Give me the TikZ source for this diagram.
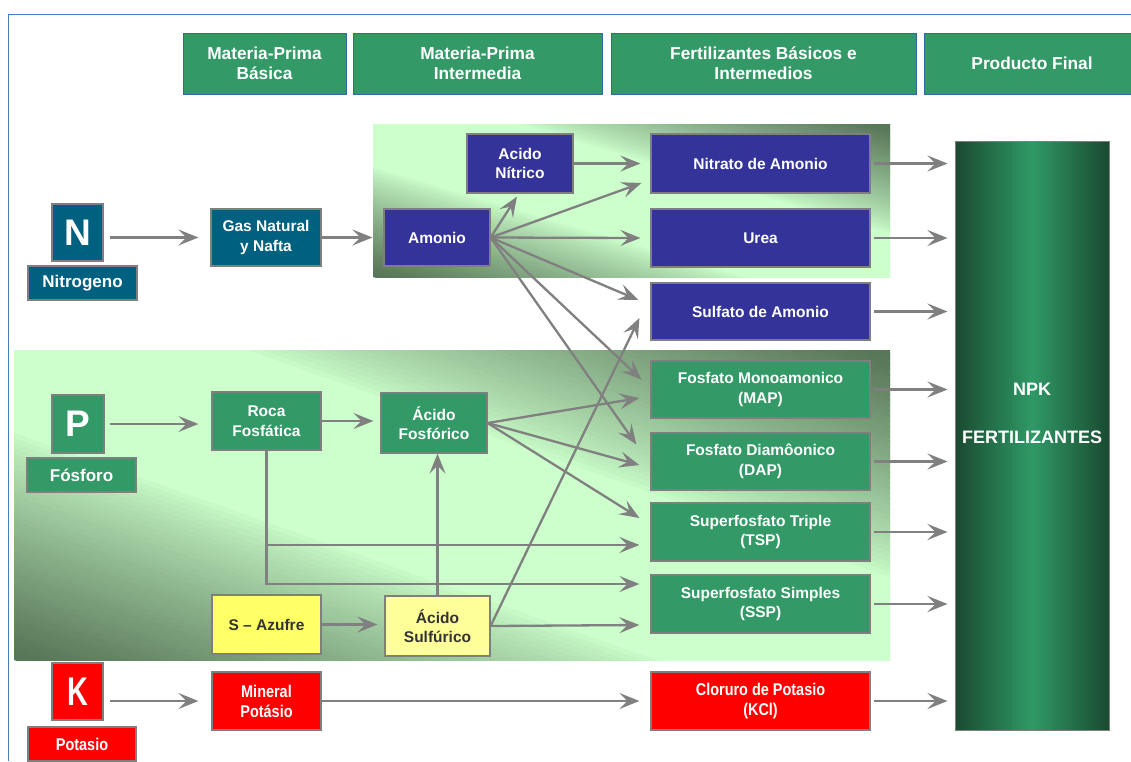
\documentclass[tikz,border=0pt]{standalone}
\usepackage{fontspec}
\setmainfont{Liberation Sans}
\newfontfamily\condfont{Liberation Sans}[FakeStretch=0.85]
\newfontfamily\narrowfont{Liberation Sans}[FakeStretch=0.72]
\usetikzlibrary{arrows.meta,calc}
\definecolor{frameblue}{HTML}{4A7EBB}
\definecolor{hdrgreen}{HTML}{339966}
\definecolor{hdrborder}{HTML}{2B6CA3}
\definecolor{nteal}{HTML}{006080}
\definecolor{nblue}{HTML}{333399}
\definecolor{pgreen}{HTML}{339966}
\definecolor{syellow}{HTML}{FFFF66}
\definecolor{lyellow}{HTML}{FFFF99}
\definecolor{kred}{HTML}{FF0000}
\definecolor{arrgray}{HTML}{808080}
\definecolor{boxborder}{HTML}{7F7F7F}
\definecolor{plight}{HTML}{CCFFCC}
\definecolor{pdark}{HTML}{587658}
\definecolor{npkdark}{HTML}{1A4A30}
\definecolor{npklight}{HTML}{2F9966}
% panel with dark bottom-left and top-right corners, light along the other diagonal
\newcommand{\diagpanel}[5]{% x0, y0 (top-left), width, height, light half-band
  \begin{scope}
  \clip (#1,#2) rectangle ++(#3,#4);
  \foreach \i in {0,...,119}{
    \pgfmathsetmacro{\ta}{-1+\i/60}
    \pgfmathsetmacro{\tb}{\ta+0.026}
    \pgfmathsetmacro{\tm}{abs(\ta+1/120)}
    \pgfmathsetmacro{\mx}{(max(0,min(1,(\tm-#5)/(0.97-#5))))^0.8*100}
    \fill[pdark!\mx!plight] ({#1+(\ta-1)*#3},{#2-#4}) -- ({#1+(\ta+2)*#3},{#2+2*#4})
      -- ({#1+(\tb+2)*#3},{#2+2*#4}) -- ({#1+(\tb-1)*#3},{#2-#4}) -- cycle;
  }
  \end{scope}}
\tikzset{
  bx/.style={draw=boxborder, line width=1.2pt, text=white, align=center, inner sep=0pt,
    font=\bfseries\fontsize{15.5}{19.5}\selectfont},
  sz/.style 2 args={minimum width=#1pt, minimum height=#2pt},
  hdr/.style={draw=hdrborder, line width=1pt, fill=hdrgreen, text=white, align=center, inner sep=0pt,
    minimum height=61pt, font=\bfseries\fontsize{17.3}{20}\selectfont},
  nbox/.style={bx, fill=nteal},
  bbox/.style={bx, fill=nblue},
  gbox/.style={bx, fill=pgreen},
  ybox/.style={bx, fill=syellow, text=black!80},
  lybox/.style={bx, fill=lyellow, text=black!80},
  rbox/.style={bx, fill=kred, font=\condfont\bfseries\fontsize{17}{20}\selectfont},
  letter/.style={font=\bfseries\fontsize{37}{37}\selectfont},
  tag/.style={font=\bfseries\fontsize{17}{20}\selectfont},
  arr/.style={draw=arrgray, line width=2.3pt, -{Stealth[length=20pt,width=16pt,inset=8pt]}}
}
\begin{document}
\begin{tikzpicture}[x=1pt,y=-1pt]
\useasboundingbox (0,0) rectangle (1131,761);
\fill[white] (0,0) rectangle (1131,761);
% frame
\draw[frameblue, line width=1.5pt] (8.5,761) -- (8.5,14.5) -- (1131,14.5);
% panels
\diagpanel{373}{124}{517}{153}{0.28}
\diagpanel{14}{350}{876}{310}{0.26}
% headers
\node[hdr, minimum width=163pt] (h1) at (264.5,63.5) {Materia-Prima\\Básica};
\node[hdr, minimum width=249pt] (h2) at (477.5,63.5) {Materia-Prima\\Intermedia};
\node[hdr, minimum width=305pt] (h3) at (763.5,63.5) {Fertilizantes Básicos e\\Intermedios};
\node[hdr, minimum width=216pt] (h4) at (1032,63.5) {Producto Final};
% nitrogen row
\node[nbox, sz={51}{57}, letter] (N) at (77.5,232.5) {N};
\node[nbox, sz={109}{34}, tag] (Nlab) at (82.5,283) {Nitrogeno};
\node[nbox, sz={110}{57}] (Gas) at (266,237.5) {Gas Natural\\y Nafta};
\node[bbox, sz={106}{57}] (Amonio) at (437,237.5) {Amonio};
\node[bbox, sz={106}{59}] (AcNit) at (520,163.5) {Acido\\Nítrico};
\node[bbox, sz={219}{59}] (Nitrato) at (760.5,163.5) {Nitrato de Amonio};
\node[bbox, sz={219}{58}] (Urea) at (760.5,238) {Urea};
\node[bbox, sz={219}{57}] (Sulfato) at (760.5,311.5) {Sulfato de Amonio};
% phosphorus
\node[gbox, sz={52}{58}, letter] (P) at (78,424) {P};
\node[gbox, sz={109}{34}, tag] (Plab) at (81.5,475) {Fósforo};
\node[gbox, sz={109}{58}] (Roca) at (266.5,421) {Roca\\Fosfática};
\node[gbox, sz={106}{60}] (AcFos) at (434,423) {Ácido\\Fosfórico};
\node[gbox, sz={219}{57}] (MAP) at (760.5,389.5) {Fosfato Monoamonico\\(MAP)};
\node[gbox, sz={219}{57}] (DAP) at (760.5,461.5) {Fosfato Diamôonico\\(DAP)};
\node[gbox, sz={219}{58}] (TSP) at (760.5,532) {Superfosfato Triple\\(TSP)};
\node[gbox, sz={219}{58}] (SSP) at (760.5,604) {Superfosfato Simples\\(SSP)};
\node[ybox, sz={109}{59}] (Azufre) at (266.5,624.5) {S -- Azufre};
\node[lybox, sz={105}{60}] (AcSulf) at (437.5,626) {Ácido\\Sulfúrico};
% potassium
\node[rbox, sz={51}{57}, font=\narrowfont\bfseries\fontsize{40}{40}\selectfont] (K) at (77.5,691.5) {K};
\node[rbox, sz={108}{34}] (Klab) at (82,744) {Potasio};
\node[rbox, sz={109}{58}] (Mineral) at (266.5,701) {Mineral\\Potásio};
\node[rbox, sz={219}{58}] (KCl) at (760.5,701) {Cloruro de Potasio\\(KCl)};
% NPK
\node[draw=boxborder, line width=1pt, left color=npkdark, right color=npkdark, middle color=npklight,
  minimum width=154pt, minimum height=589pt, inner sep=0pt] (NPK) at (1032,435.5) {};
\node[text=white, align=center, font=\bfseries\fontsize{18}{22}\selectfont] (npklab) at (NPK.center |- 0,413) {NPK\\[26pt]FERTILIZANTES};
% arrows: nitrogen
\draw[arr, shorten <=6pt, shorten >=12pt] (N.east |- Gas.west) -- (Gas.west);
\draw[arr, shorten >=11pt] (Gas) -- (Amonio);
\draw[arr] (Amonio.east) -- ($(AcNit.south)+(-3,3)$);
\draw[arr] (Amonio.east) -- ($(Nitrato.west)+(-9,19.5)$);
\draw[arr] (Amonio.east) -- ($(Urea.west)+(-10,0)$);
\draw[arr] (Amonio.east) -- ($(Sulfato.west)+(-12,-11.5)$);
\draw[arr] (Amonio.east) -- ($(MAP.west)+(-9,-10)$);
\draw[arr] (Amonio.east) -- ($(DAP.west)+(-14,-17)$);
\draw[arr, shorten >=10pt] (AcNit) -- (AcNit -| Nitrato.west);
% arrows: phosphorus
\draw[arr, shorten <=5pt, shorten >=13pt] (P.east) -- (P.east -| Roca.west);
\draw[arr, shorten >=7pt] (Roca.east) -- (Roca.east -| AcFos.west);
\draw[arr] (AcFos.east) -- ($(MAP.west)+(-11,8.5)$);
\draw[arr] (AcFos.east) -- ($(DAP.west)+(-11,3.5)$);
\draw[arr] (AcFos.east) -- ($(TSP.west)+(-11,-14)$);
\draw[arr] (Roca.south) |- ($(TSP.west)+(-11,13)$);
\draw[arr] (Roca.south) |- ($(SSP.west)+(-11,-20)$);
\draw[arr, shorten >=7pt] (Azufre.east) -- (Azufre.east -| AcSulf.west);
\draw[arr] (AcSulf.north) -- (AcSulf.north |- AcFos.south);
\draw[arr] (AcSulf.east) -- ($(SSP.west)+(-11,21)$);
\draw[arr] (AcSulf.east) -- ($(Sulfato.west)+(-11,6.5)$);
% arrows: potassium
\draw[arr, shorten <=6pt, shorten >=13pt] (K.east |- Mineral.west) -- (Mineral.west);
\draw[arr, shorten >=11pt] (Mineral) -- (KCl);
% arrows to NPK
\foreach \b in {Nitrato,Urea,Sulfato,MAP,DAP,TSP,SSP,KCl}
  \draw[arr, shorten <=3pt, shorten >=7pt] (\b.east) -- (\b.east -| NPK.west);
\end{tikzpicture}
\end{document}
